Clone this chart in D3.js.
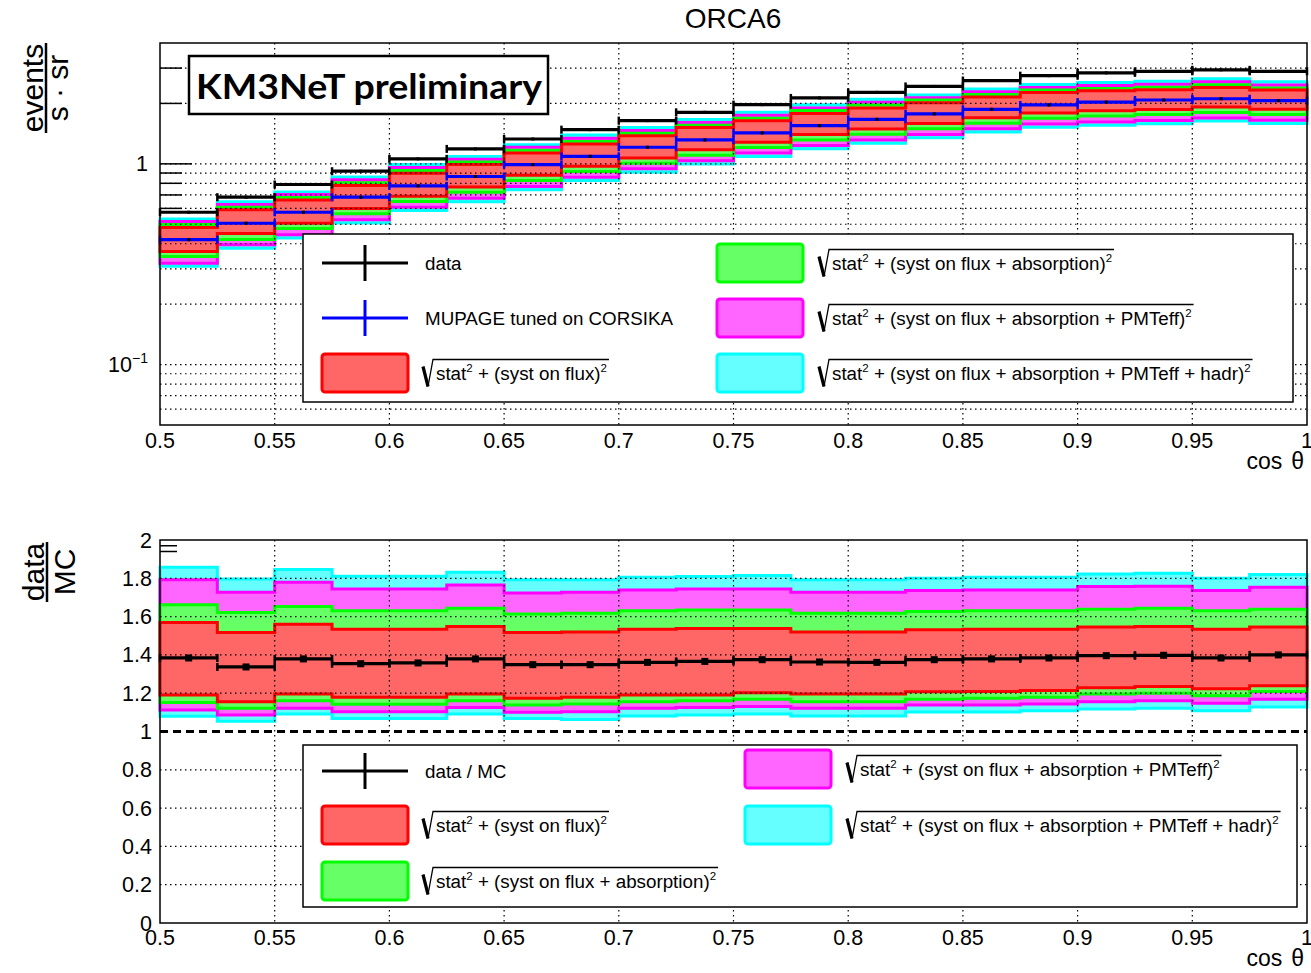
<!DOCTYPE html>
<html>
<head>
<meta charset="utf-8">
<script src="https://cdnjs.cloudflare.com/ajax/libs/d3/7.8.5/d3.min.js"></script>
<style>
  body { margin: 0; background: #fff; }
  svg text { font-family: "Liberation Sans", Arial, sans-serif; fill: #000; }
</style>
</head>
<body>
<svg id="chart" width="1311" height="973"></svg>
<script>
"use strict"

// bins in cos(theta)
var binLow = [0.500, 0.525, 0.550, 0.575, 0.600, 0.625, 0.650, 0.675, 0.700, 0.725,
              0.750, 0.775, 0.800, 0.825, 0.850, 0.875, 0.900, 0.925, 0.950, 0.975];
var binWidth = 0.025;

// upper pad: events / (s sr)
var dataRate = [0.574, 0.682, 0.789, 0.919, 1.059, 1.187, 1.33, 1.48, 1.642, 1.806,
                1.972, 2.13, 2.27, 2.43, 2.60, 2.75, 2.84, 2.89, 2.94, 2.89];
var mcRate   = [0.419, 0.506, 0.574, 0.682, 0.777, 0.865, 0.992, 1.09, 1.21, 1.316,
                1.426, 1.55, 1.667, 1.774, 1.87, 1.966, 2.03, 2.08, 2.11, 2.065];

var redLoTop   = [0.366,0.450,0.506,0.599,0.690,0.767,0.877,0.974,1.070,1.174,1.282,1.401,1.493,1.587,1.695,1.793,1.837,1.867,1.917,1.869];
var redHiTop   = [0.482,0.590,0.660,0.779,0.898,0.992,1.133,1.255,1.379,1.516,1.639,1.781,1.898,2.013,2.151,2.265,2.311,2.340,2.404,2.333];
var greenLoTop = [0.345,0.420,0.477,0.564,0.650,0.722,0.825,0.915,1.007,1.105,1.207,1.316,1.403,1.494,1.595,1.687,1.733,1.759,1.804,1.763];
var greenHiTop = [0.499,0.608,0.680,0.805,0.927,1.022,1.169,1.294,1.420,1.557,1.688,1.843,1.964,2.080,2.215,2.332,2.375,2.408,2.477,2.390];
var magLoTop   = [0.320,0.395,0.444,0.527,0.607,0.673,0.772,0.857,0.944,1.036,1.131,1.233,1.314,1.400,1.495,1.581,1.616,1.644,1.694,1.649];
var magHiTop   = [0.516,0.628,0.704,0.833,0.960,1.055,1.209,1.342,1.465,1.605,1.745,1.900,2.025,2.135,2.285,2.404,2.457,2.489,2.563,2.474];
var cyanLoTop  = [0.309,0.380,0.427,0.507,0.585,0.648,0.742,0.826,0.909,0.998,1.087,1.189,1.267,1.350,1.440,1.523,1.558,1.582,1.633,1.588];
var cyanHiTop  = [0.531,0.647,0.723,0.860,0.992,1.088,1.245,1.392,1.519,1.663,1.808,1.970,2.100,2.205,2.359,2.482,2.542,2.578,2.651,2.562];

// lower pad: data / MC
var ratio = [1.384, 1.337, 1.379, 1.354, 1.358, 1.379, 1.349, 1.349, 1.361, 1.366,
             1.375, 1.363, 1.361, 1.375, 1.379, 1.384, 1.396, 1.398, 1.384, 1.400];

var redLoR   = [1.191,1.156,1.196,1.179,1.179,1.196,1.174,1.179,1.191,1.191,1.203,1.196,1.196,1.207,1.209,1.214,1.229,1.235,1.223,1.239];
var redHiR   = [1.569,1.517,1.560,1.534,1.534,1.548,1.517,1.520,1.534,1.538,1.538,1.520,1.520,1.531,1.534,1.534,1.546,1.548,1.534,1.546];
var greenLoR = [1.151,1.121,1.161,1.142,1.142,1.161,1.138,1.144,1.156,1.160,1.168,1.156,1.156,1.168,1.174,1.179,1.196,1.200,1.187,1.209];
var greenHiR = [1.662,1.622,1.653,1.630,1.630,1.644,1.613,1.618,1.630,1.634,1.634,1.618,1.618,1.627,1.630,1.630,1.639,1.643,1.630,1.639];
var magLoR   = [1.112,1.086,1.121,1.103,1.103,1.125,1.100,1.103,1.121,1.125,1.130,1.121,1.121,1.138,1.138,1.144,1.156,1.161,1.147,1.168];
var magHiR   = [1.793,1.727,1.779,1.744,1.744,1.765,1.723,1.727,1.739,1.744,1.744,1.727,1.727,1.736,1.739,1.739,1.757,1.758,1.736,1.753];
var cyanLoR  = [1.080,1.054,1.091,1.068,1.068,1.091,1.068,1.063,1.081,1.086,1.091,1.081,1.081,1.102,1.102,1.108,1.117,1.121,1.109,1.128];
var cyanHiR  = [1.858,1.797,1.846,1.811,1.811,1.832,1.792,1.792,1.806,1.809,1.814,1.792,1.792,1.800,1.806,1.806,1.823,1.827,1.800,1.820];

var xTicks = [0.5, 0.55, 0.6, 0.65, 0.7, 0.75, 0.8, 0.85, 0.9, 0.95, 1];
var xTickLabels = ["0.5", "0.55", "0.6", "0.65", "0.7", "0.75", "0.8", "0.85", "0.9", "0.95", "1"];
var logGrid = [0.06, 0.07, 0.08, 0.09, 0.1, 0.2, 0.3, 0.4, 0.5, 0.6, 0.7, 0.8, 0.9, 1, 2, 3];
var ratioTicks = [0, 0.2, 0.4, 0.6, 0.8, 1, 1.2, 1.4, 1.6, 1.8, 2];
var ratioTickLabels = ["0", "0.2", "0.4", "0.6", "0.8", "1", "1.2", "1.4", "1.6", "1.8", "2"];

var colFill = {red: "#ff6666", green: "#66ff66", magenta: "#ff66ff", cyan: "#66ffff"};
var colLine = {red: "#ff0000", green: "#00ff00", magenta: "#ff00ff", cyan: "#00ffff"};

var bandsTop = [
  {c: "cyan", lo: cyanLoTop, hi: cyanHiTop},
  {c: "magenta", lo: magLoTop, hi: magHiTop},
  {c: "green", lo: greenLoTop, hi: greenHiTop},
  {c: "red", lo: redLoTop, hi: redHiTop}
];
var bandsRatio = [
  {c: "cyan", lo: cyanLoR, hi: cyanHiR},
  {c: "magenta", lo: magLoR, hi: magHiR},
  {c: "green", lo: greenLoR, hi: greenHiR},
  {c: "red", lo: redLoR, hi: redHiR}
];

var svg = d3.select("#chart");
var left = 160, right = 1307;
var x = d3.scaleLinear().domain([0.5, 1]).range([left, right]);
var yTop = d3.scaleLog().domain([0.05, 4]).range([425, 43]);
var yBot = d3.scaleLinear().domain([0, 2]).range([923, 540]);

function bandPath(lo, hi, y) {
  var pts = [];
  binLow.forEach(function(b, i) {
    pts.push([x(b), y(hi[i])]);
    pts.push([x(b + binWidth), y(hi[i])]);
  });
  for (var i = binLow.length - 1; i >= 0; i--) {
    pts.push([x(binLow[i] + binWidth), y(lo[i])]);
    pts.push([x(binLow[i]), y(lo[i])]);
  }
  return d3.line()(pts) + "Z";
}

function drawBands(g, bands, y) {
  g.selectAll("path.band")
    .data(bands)
    .join("path")
      .attr("class", "band")
      .attr("d", function(d) { return bandPath(d.lo, d.hi, y); })
      .attr("fill", function(d) { return colFill[d.c]; })
      .attr("stroke", function(d) { return colLine[d.c]; })
      .attr("stroke-width", 3)
      .attr("stroke-linejoin", "miter");
}

function drawSeries(g, vals, y, color, square) {
  var s = g.append("g");
  s.selectAll("line.h").data(vals).join("line")
    .attr("x1", function(d, i) { return x(binLow[i]); })
    .attr("x2", function(d, i) { return x(binLow[i] + binWidth); })
    .attr("y1", function(d) { return y(d); })
    .attr("y2", function(d) { return y(d); })
    .attr("stroke", color).attr("stroke-width", 3.2);
  [0, 1].forEach(function(e) {
    s.selectAll("line.t" + e).data(vals).join("line")
      .attr("class", "t" + e)
      .attr("x1", function(d, i) { return x(binLow[i] + e * binWidth); })
      .attr("x2", function(d, i) { return x(binLow[i] + e * binWidth); })
      .attr("y1", function(d) { return y(d) - 4; })
      .attr("y2", function(d) { return y(d) + 4; })
      .attr("stroke", color).attr("stroke-width", 2.5);
  });
  var m = square ? 7 : 3;
  s.selectAll("rect").data(vals).join("rect")
    .attr("x", function(d, i) { return x(binLow[i] + binWidth / 2) - m / 2; })
    .attr("y", function(d) { return y(d) - m / 2; })
    .attr("width", m).attr("height", m)
    .attr("fill", "#000");
}

function dotted(g, x1, y1, x2, y2) {
  g.append("line")
    .attr("x1", x1).attr("y1", y1).attr("x2", x2).attr("y2", y2)
    .attr("stroke", "#000").attr("stroke-width", 1.2)
    .attr("stroke-dasharray", "1.5,3.5");
}

function sqrtLabel(g, x0, yc, inner) {
  var base = yc + 6.5;
  var t = g.append("text").attr("x", x0 + 14).attr("y", base).attr("font-size", 18.8);
  t.append("tspan").text("stat");
  t.append("tspan").attr("dy", -8).attr("font-size", 11.5).text("2");
  t.append("tspan").attr("dy", 8).text(" + (" + inner + ")");
  t.append("tspan").attr("dy", -8).attr("font-size", 11.5).text("2");
  var w = t.node().getComputedTextLength();
  g.append("path")
    .attr("d", "M" + (x0 + 1) + "," + (base - 13) + "L" + (x0 + 6) + "," + (base + 7))
    .attr("stroke", "#000").attr("stroke-width", 3.2).attr("fill", "none");
  g.append("path")
    .attr("d", "M" + (x0 + 6) + "," + (base + 7) + "L" + (x0 + 11) + "," + (base - 20) +
               "L" + (x0 + 16 + w) + "," + (base - 20))
    .attr("stroke", "#000").attr("stroke-width", 1.3).attr("fill", "none");
}

function legendCross(g, x0, yc, color, label) {
  g.append("line").attr("x1", x0).attr("x2", x0 + 86).attr("y1", yc).attr("y2", yc)
    .attr("stroke", color).attr("stroke-width", 3);
  g.append("line").attr("x1", x0 + 43).attr("x2", x0 + 43).attr("y1", yc - 18).attr("y2", yc + 18)
    .attr("stroke", color).attr("stroke-width", 3);
  g.append("text").attr("x", x0 + 103).attr("y", yc + 6.5).attr("font-size", 18.8).text(label);
}

function legendBox(g, x0, yc, c, inner, tx) {
  g.append("rect").attr("x", x0).attr("y", yc - 19).attr("width", 86).attr("height", 38)
    .attr("rx", 3).attr("fill", colFill[c]).attr("stroke", colLine[c]).attr("stroke-width", 3);
  sqrtLabel(g, tx, yc, inner);
}

/* ---------------- upper pad ---------------- */
var upper = svg.append("g");

svg.append("text").attr("x", 733).attr("y", 28).attr("text-anchor", "middle")
  .attr("font-size", 28).text("ORCA6");

// y ticks
logGrid.filter(function(v) { return v >= 0.6; }).forEach(function(v) {
  upper.append("line").attr("x1", left).attr("x2", left + (v === 1 ? 32 : 22))
    .attr("y1", yTop(v)).attr("y2", yTop(v)).attr("stroke", "#000").attr("stroke-width", 1.5);
});

drawBands(upper, bandsTop, yTop);

var gridTop = upper.append("g");
logGrid.forEach(function(v) { dotted(gridTop, left, yTop(v), right, yTop(v)); });
xTicks.slice(1, -1).forEach(function(v) { dotted(gridTop, x(v), 43, x(v), 425); });

drawSeries(upper, mcRate, yTop, "#0000ff", false);
drawSeries(upper, dataRate, yTop, "#000", false);

upper.append("rect").attr("x", left).attr("y", 43).attr("width", right - left).attr("height", 382)
  .attr("fill", "none").attr("stroke", "#000").attr("stroke-width", 1.5);

upper.append("text").attr("x", 148).attr("y", yTop(1) + 7.5).attr("text-anchor", "end")
  .attr("font-size", 21.5).text("1");
var tm = upper.append("text").attr("x", 148).attr("y", yTop(0.1) + 7.5).attr("text-anchor", "end")
  .attr("font-size", 21.5);
tm.append("tspan").text("10");
tm.append("tspan").attr("dy", -9).attr("font-size", 14).text("\u22121");

upper.selectAll("text.xl").data(xTicks).join("text")
  .attr("class", "xl")
  .attr("x", function(d) { return x(d); }).attr("y", 448)
  .attr("text-anchor", "middle").attr("font-size", 21.5)
  .text(function(d, i) { return xTickLabels[i]; });

var ct1 = upper.append("text").attr("x", 1304).attr("y", 469).attr("text-anchor", "end").attr("font-size", 23);
ct1.append("tspan").text("cos");
ct1.append("tspan").attr("dx", 9).text("\u03b8");

// y title
var yt1 = svg.append("g").attr("transform", "translate(46,88) rotate(-90)");
yt1.append("text").attr("x", 0).attr("y", -3).attr("text-anchor", "middle").attr("font-size", 30).text("events");
yt1.append("line").attr("x1", -45).attr("x2", 45).attr("y1", 0).attr("y2", 0).attr("stroke", "#000").attr("stroke-width", 2.5);
yt1.append("text").attr("x", 0).attr("y", 22).attr("text-anchor", "middle").attr("font-size", 30).text("s \u00b7 sr");

// KM3NeT label
upper.append("rect").attr("x", 189).attr("y", 56).attr("width", 359).attr("height", 58)
  .attr("fill", "#fff").attr("stroke", "#000").attr("stroke-width", 2.5);
upper.append("text").attr("x", 196).attr("y", 99).attr("font-size", 35)
  .style("font-family", "Lato, 'Open Sans', sans-serif").attr("font-weight", "bold")
  .attr("textLength", 346).attr("lengthAdjust", "spacingAndGlyphs")
  .text("KM3NeT preliminary");

// legend
var leg1 = upper.append("g");
leg1.append("rect").attr("x", 303).attr("y", 234).attr("width", 990).attr("height", 168)
  .attr("fill", "#fff").attr("stroke", "#000").attr("stroke-width", 1.5);
legendCross(leg1, 322, 263, "#000", "data");
legendCross(leg1, 322, 318, "#0000ff", "MUPAGE tuned on CORSIKA");
legendBox(leg1, 322, 373, "red", "syst on flux", 422);
legendBox(leg1, 717, 263, "green", "syst on flux + absorption", 818);
legendBox(leg1, 717, 318, "magenta", "syst on flux + absorption + PMTeff", 818);
legendBox(leg1, 717, 373, "cyan", "syst on flux + absorption + PMTeff + hadr", 818);

/* ---------------- lower pad ---------------- */
var lower = svg.append("g");

// little minor ticks visible at the top of the axis
[1.97, 1.94].forEach(function(v) {
  lower.append("line").attr("x1", left).attr("x2", left + 17).attr("y1", yBot(v)).attr("y2", yBot(v))
    .attr("stroke", "#000").attr("stroke-width", 1.5);
});

drawBands(lower, bandsRatio, yBot);

var gridBot = lower.append("g");
ratioTicks.slice(1, -1).forEach(function(v) { if (v !== 1) dotted(gridBot, left, yBot(v), right, yBot(v)); });
xTicks.slice(1, -1).forEach(function(v) { dotted(gridBot, x(v), 540, x(v), 923); });

lower.append("line").attr("x1", left).attr("x2", right).attr("y1", yBot(1)).attr("y2", yBot(1))
  .attr("stroke", "#000").attr("stroke-width", 3).attr("stroke-dasharray", "8,5");

drawSeries(lower, ratio, yBot, "#000", true);

lower.append("rect").attr("x", left).attr("y", 540).attr("width", right - left).attr("height", 383)
  .attr("fill", "none").attr("stroke", "#000").attr("stroke-width", 1.5);

lower.selectAll("text.yl").data(ratioTicks).join("text")
  .attr("class", "yl")
  .attr("x", 152).attr("y", function(d) { return yBot(d) + 7.5; })
  .attr("text-anchor", "end").attr("font-size", 21.5)
  .text(function(d, i) { return ratioTickLabels[i]; });

lower.selectAll("text.xl").data(xTicks).join("text")
  .attr("class", "xl")
  .attr("x", function(d) { return x(d); }).attr("y", 945)
  .attr("text-anchor", "middle").attr("font-size", 21.5)
  .text(function(d, i) { return xTickLabels[i]; });

var ct2 = lower.append("text").attr("x", 1304).attr("y", 966).attr("text-anchor", "end").attr("font-size", 23);
ct2.append("tspan").text("cos");
ct2.append("tspan").attr("dx", 9).text("\u03b8");

var yt2 = svg.append("g").attr("transform", "translate(47,572) rotate(-90)");
yt2.append("text").attr("x", 0).attr("y", -3).attr("text-anchor", "middle").attr("font-size", 30).text("data");
yt2.append("line").attr("x1", -30).attr("x2", 30).attr("y1", 0).attr("y2", 0).attr("stroke", "#000").attr("stroke-width", 2.5);
yt2.append("text").attr("x", 0).attr("y", 28).attr("text-anchor", "middle").attr("font-size", 30).text("MC");

var leg2 = lower.append("g");
leg2.append("rect").attr("x", 303).attr("y", 745).attr("width", 994).attr("height", 162)
  .attr("fill", "#fff").attr("stroke", "#000").attr("stroke-width", 1.5);
legendCross(leg2, 322, 771, "#000", "data / MC");
legendBox(leg2, 322, 825, "red", "syst on flux", 422);
legendBox(leg2, 322, 881, "green", "syst on flux + absorption", 422);
legendBox(leg2, 745, 769, "magenta", "syst on flux + absorption + PMTeff", 846);
legendBox(leg2, 745, 825, "cyan", "syst on flux + absorption + PMTeff + hadr", 846);
</script>
</body>
</html>
